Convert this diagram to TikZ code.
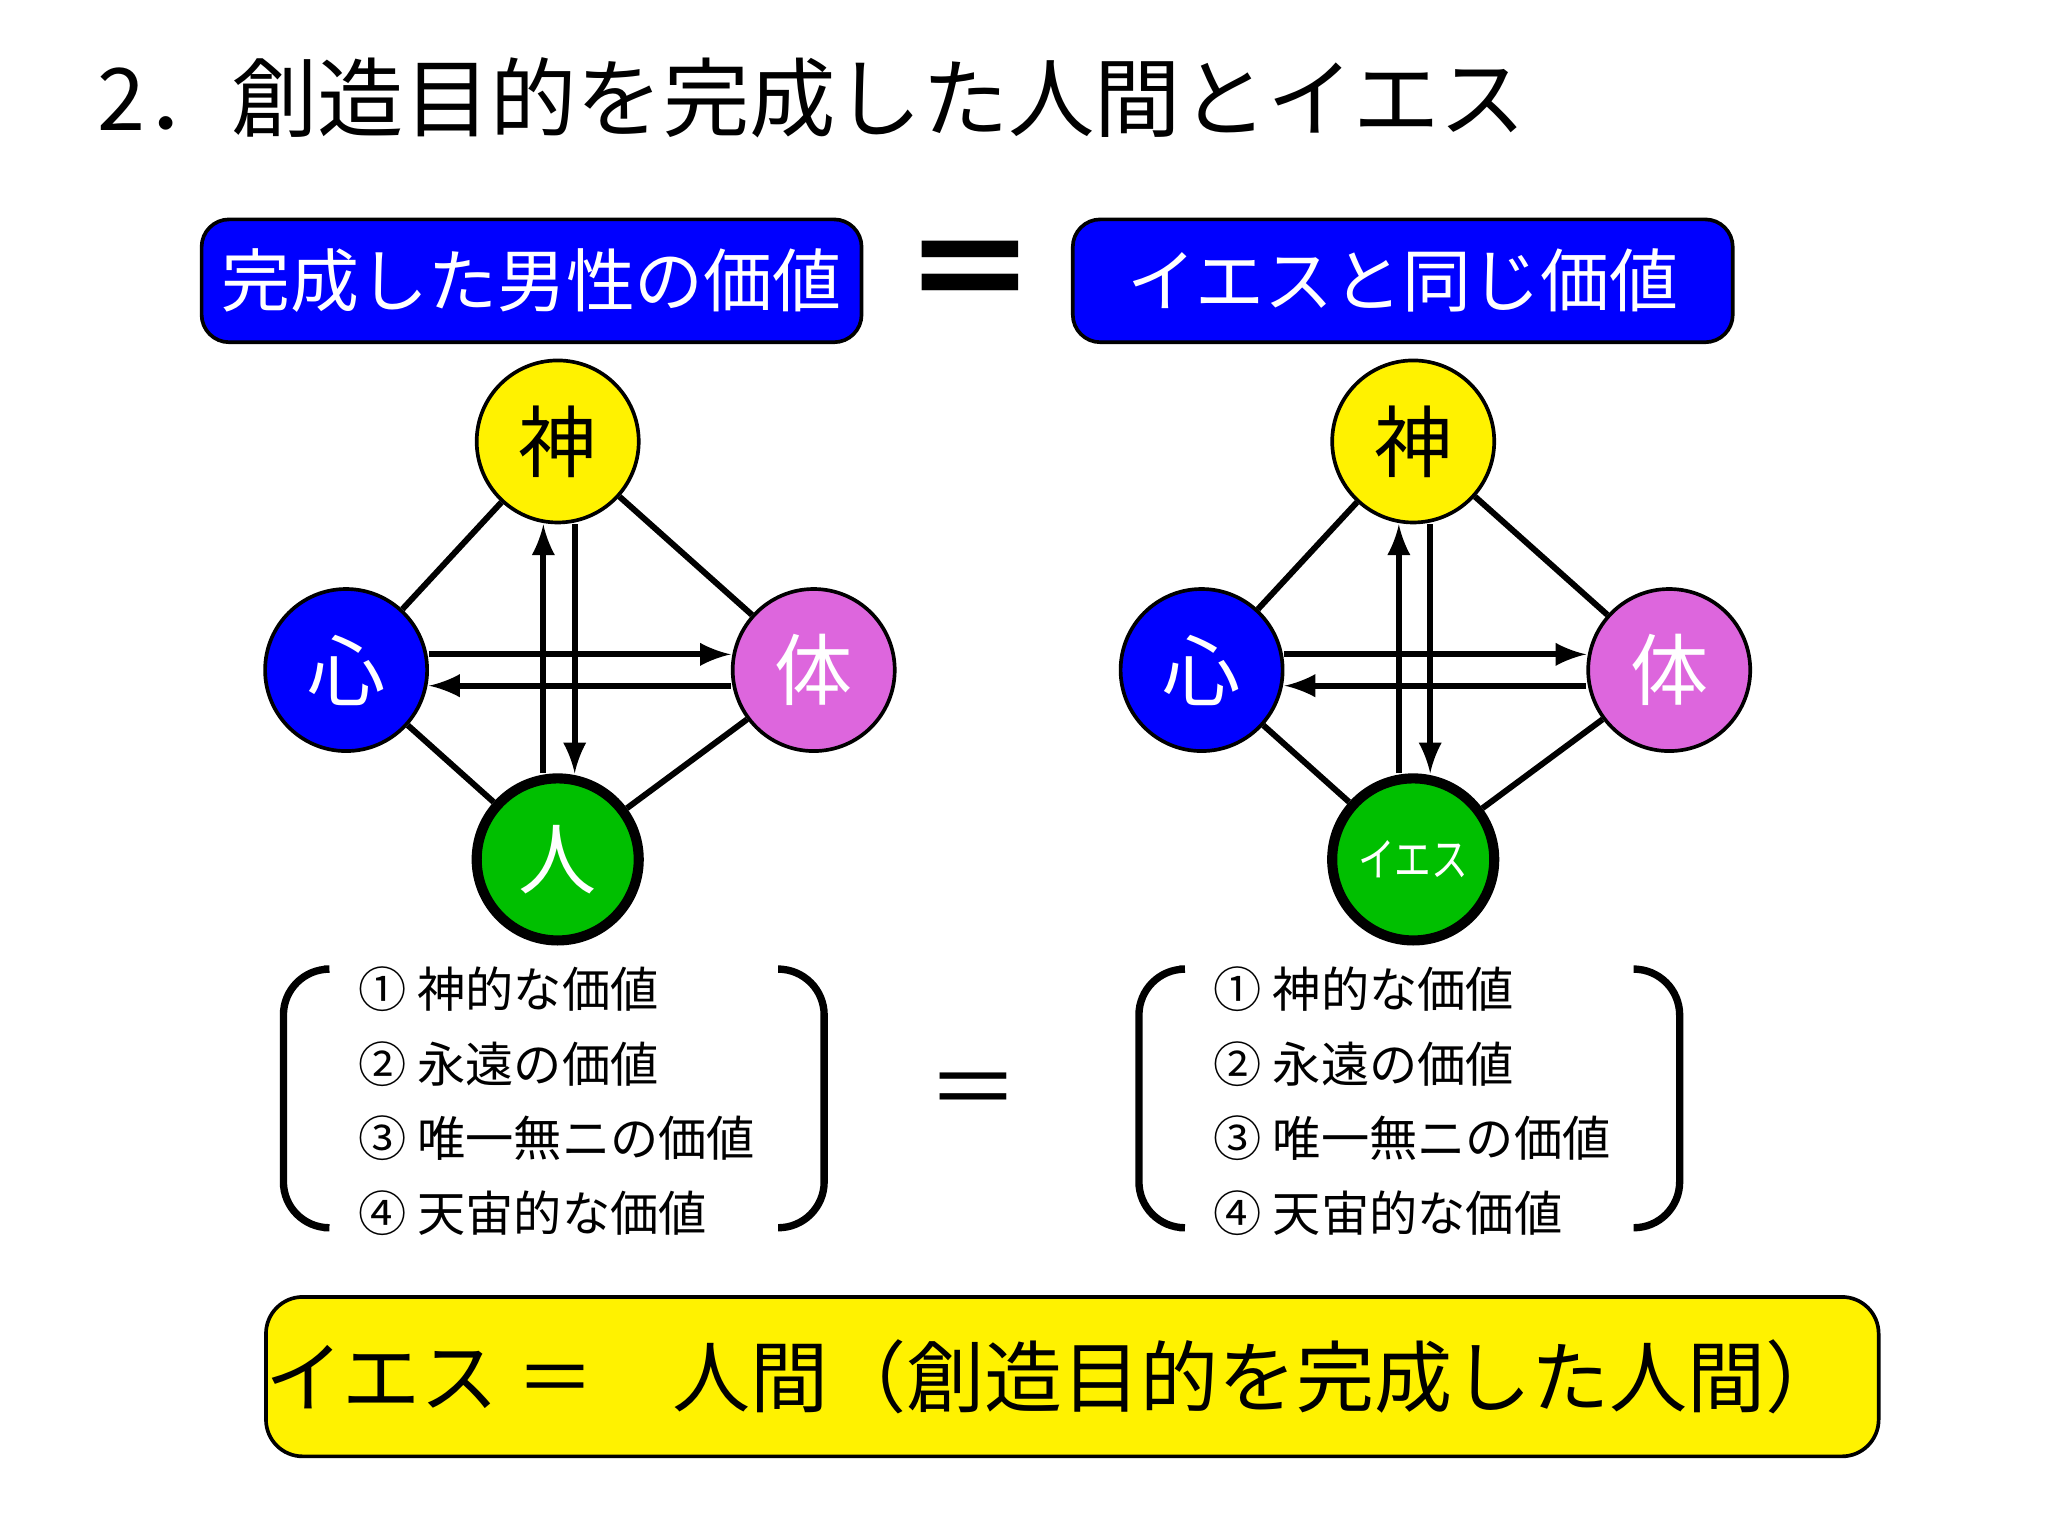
\documentclass[tikz,border=0pt]{standalone}
\usepackage{fontspec}
\setmainfont{Noto Sans CJK JP}
\usetikzlibrary{positioning, arrows}

\tikzset{
    hbox/.style={draw=black, thick, fill=blue, rounded corners=6pt, minimum width=5.05cm, minimum height=0.94cm, text=white, font=\fontsize{15}{15}\selectfont},
    ball/.style={circle, draw=black, thick, minimum size=1.24cm, inner sep=0pt, font=\fontsize{17}{17}\selectfont},
    link/.style={line width=1.3pt},
    flow/.style={line width=1.3pt, -latex},
    vals/.style={align=left, anchor=north west, font=\fontsize{10.5}{16.2}\selectfont},
    brk/.style={line width=1.6pt, rounded corners=10pt}
}

\begin{document}
\begin{tikzpicture}[x=0.01cm, y=-0.01cm]
    \useasboundingbox (0,0) rectangle (1568,1176);

    % Title
    \node[anchor=west, font=\fontsize{18.8}{19}\selectfont] (title) at (62,75) {2．創造目的を完成した人間とイエス};

    % Headers
    \node[hbox] (hl) at (407,215) {完成した男性の価値};
    \node[hbox] (hr) at (1074,215) {イエスと同じ価値};
    \node[font=\fontsize{30}{30}\selectfont\bfseries] (eq1) at (743,215) {＝};

    % Two diamonds
    \foreach \s/\dx/\bot/\bf in {L/0/人/\fontsize{17}{17}\selectfont, R/655/{\scalebox{0.8}[1]{イエス}}/\fontsize{10}{10}\selectfont} {
        \node[ball, fill=yellow] (god\s) at (427+\dx,338) {神};
        \node[ball, fill=blue, text=white] (mind\s) at (265+\dx,513) {心};
        \node[ball, fill=violet!45!magenta!60!white, text=white] (body\s) at (623+\dx,513) {体};
        \node[ball, fill=green!75!black, text=white, line width=2.2pt, font=\bf] (man\s) at (427+\dx,658) {\bot};

        \draw[link] (god\s) -- (mind\s);
        \draw[link] (god\s) -- (body\s);
        \draw[link] (mind\s) -- (man\s);
        \draw[link] (body\s) -- (man\s);

        \draw[flow] (man\s.north) ++(-11,0) coordinate (a\s) -- (a\s |- god\s.south);
        \draw[flow] (god\s.south) ++(13,0) coordinate (b\s) -- (b\s |- man\s.north);
        \draw[flow] (mind\s.east) ++(0,-12) coordinate (c\s) -- (c\s -| body\s.west);
        \draw[flow] (body\s.west) ++(0,12) coordinate (d\s) -- (d\s -| mind\s.east);

        % Value list
        \node[vals] (list\s) at (262+\dx,728) {① 神的な価値\\② 永遠の価値\\③ 唯一無ニの価値\\④ 天宙的な価値};
        \draw[brk] (248+\dx,742) -- (217+\dx,742) -- (217+\dx,940) -- (248+\dx,940);
        \draw[brk] (598+\dx,742) -- (631+\dx,742) -- (631+\dx,940) -- (598+\dx,940);
    }

    \node[font=\fontsize{20}{20}\selectfont] (eq2) at (745,840) {＝};

    % Conclusion
    \node[draw=black, thick, fill=yellow, rounded corners=8pt, minimum width=12.34cm, minimum height=1.22cm] (res) at (821,1054) {};
    \node[anchor=west, inner sep=0pt, font=\fontsize{17}{17}\selectfont] (restext) at (res.west) {イエス ＝　人間（創造目的を完成した人間）};
\end{tikzpicture}
\end{document}
